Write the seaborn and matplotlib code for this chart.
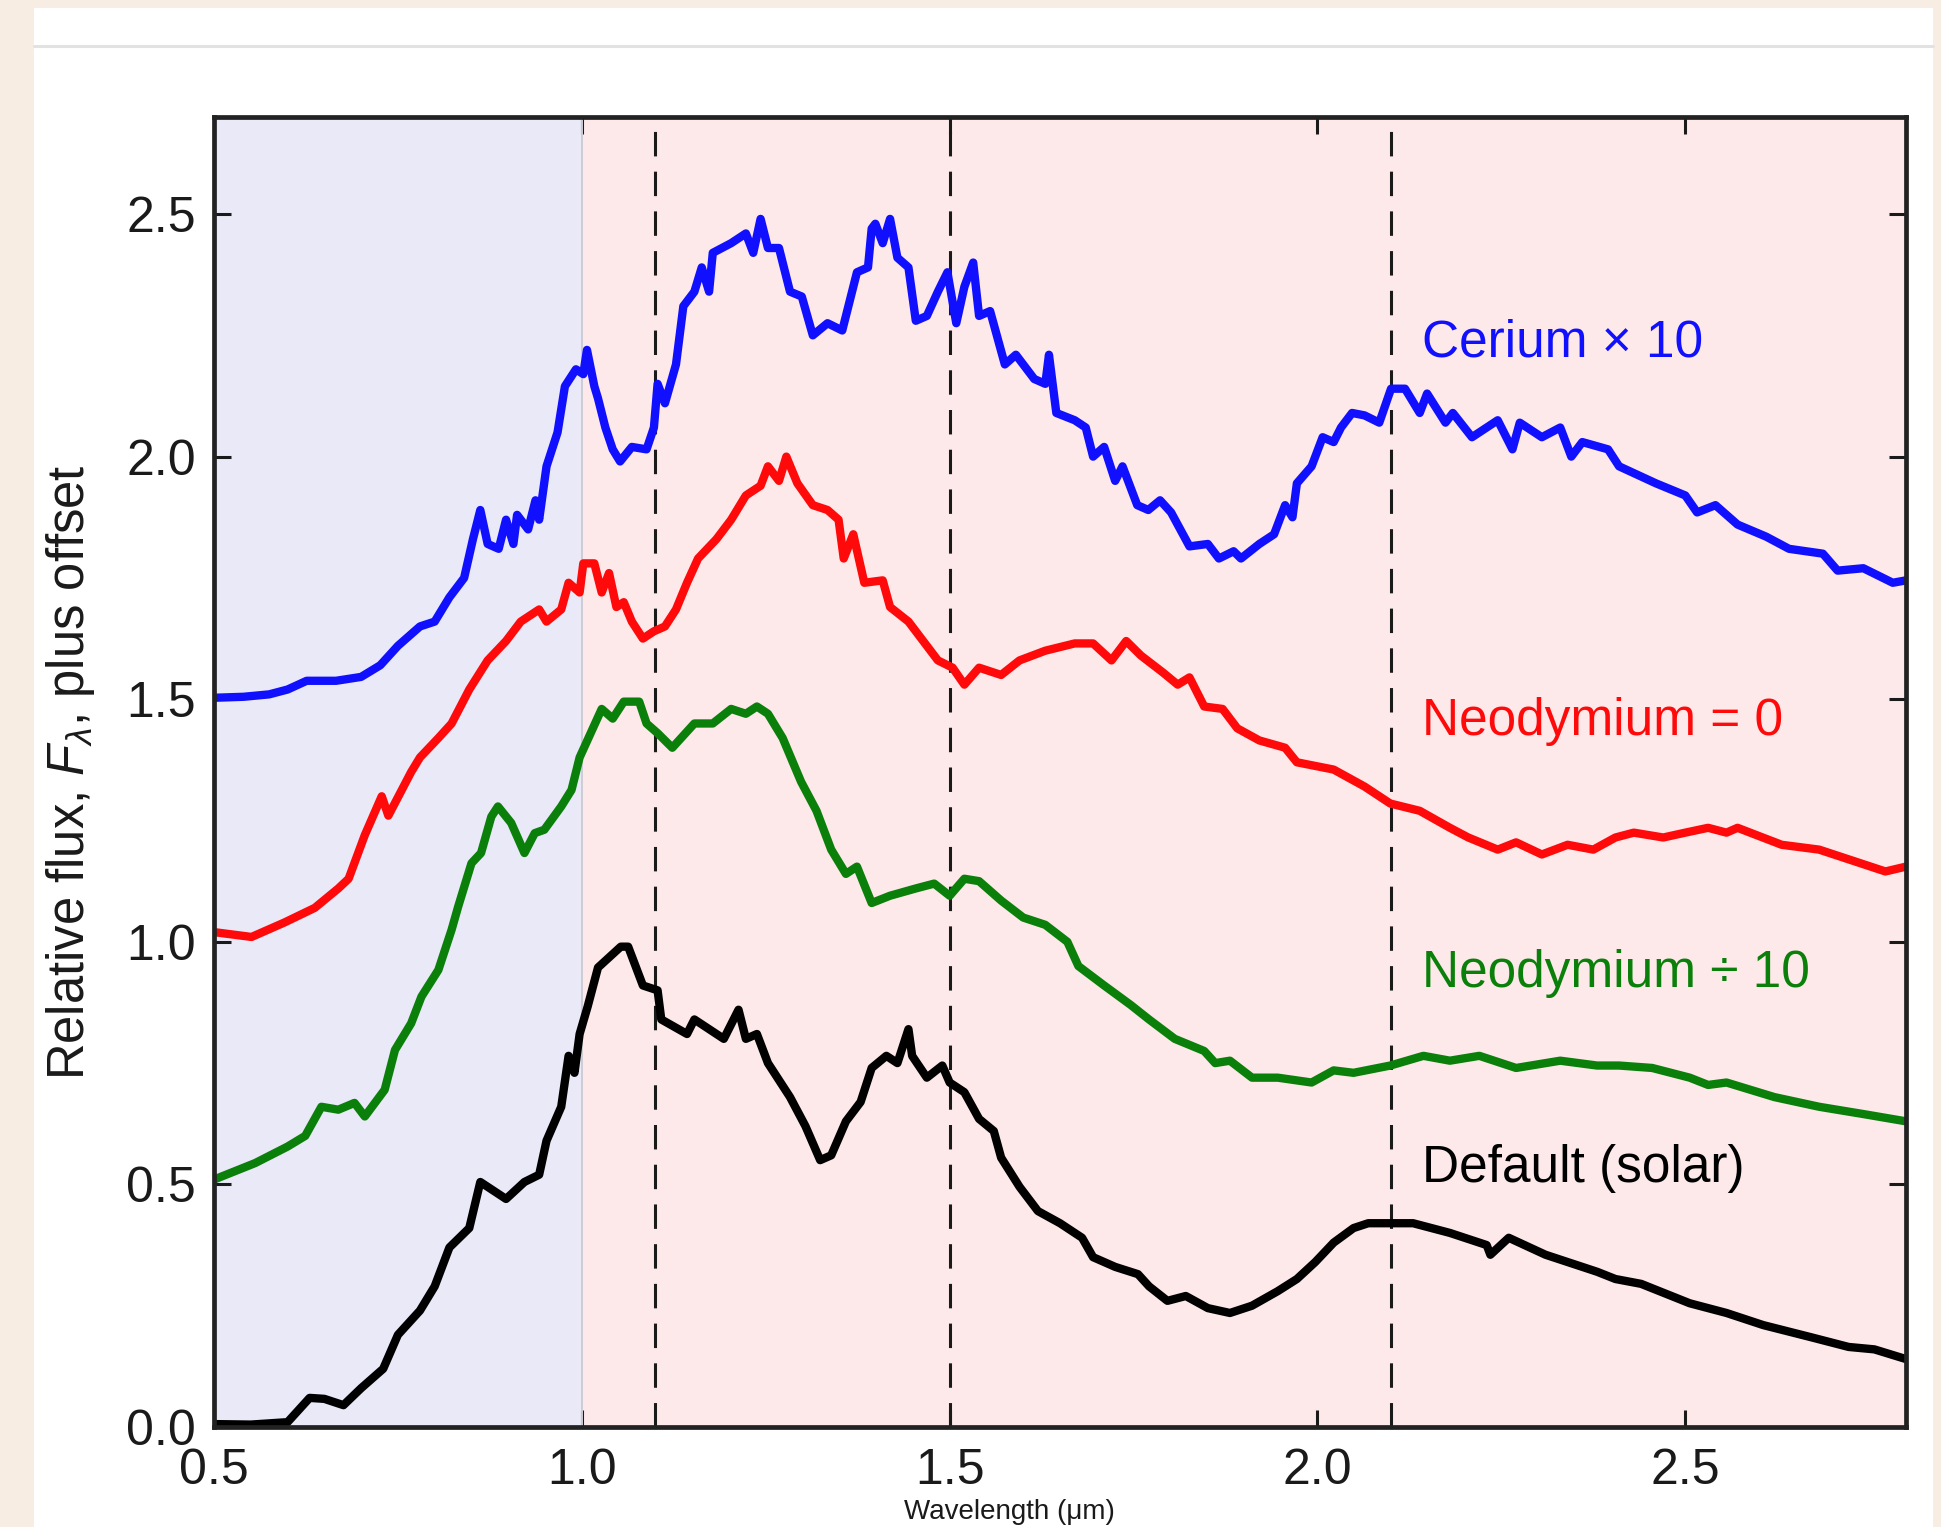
import matplotlib
matplotlib.use("Agg")
import matplotlib.pyplot as plt
from matplotlib.patches import Rectangle
from matplotlib.lines import Line2D
import seaborn as sns
import pandas as pd

# ---- spectra (wavelength in micron, relative flux plus offset) ----
cerium_x = [0.50, 0.54, 0.575, 0.60, 0.626, 0.666, 0.70, 0.726, 0.75, 0.78, 0.80, 0.82, 0.84,
            0.852, 0.862, 0.872, 0.887, 0.897, 0.907, 0.912, 0.927, 0.937, 0.942, 0.952, 0.967,
            0.977, 0.992, 1.002, 1.007, 1.017, 1.022, 1.032, 1.042, 1.052, 1.068, 1.088, 1.098,
            1.103, 1.113, 1.128, 1.138, 1.153, 1.163, 1.173, 1.178, 1.203, 1.223, 1.233, 1.243,
            1.253, 1.268, 1.283, 1.299, 1.314, 1.334, 1.354, 1.364, 1.374, 1.389, 1.394, 1.399,
            1.409, 1.419, 1.429, 1.444, 1.454, 1.469, 1.484, 1.497, 1.509, 1.52, 1.532, 1.54,
            1.555, 1.575, 1.59, 1.615, 1.63, 1.635, 1.645, 1.67, 1.685, 1.695, 1.71, 1.725,
            1.735, 1.755, 1.77, 1.786, 1.801, 1.826, 1.851, 1.866, 1.886, 1.896, 1.921, 1.941,
            1.956, 1.966, 1.972, 1.992, 2.007, 2.022, 2.032, 2.047, 2.064, 2.084, 2.10, 2.119,
            2.139, 2.149, 2.174, 2.184, 2.21, 2.245, 2.265, 2.275, 2.305, 2.33, 2.345, 2.36,
            2.395, 2.41, 2.46, 2.50, 2.516, 2.541, 2.571, 2.61, 2.641, 2.687, 2.707, 2.742,
            2.782, 2.80]
cerium_y = [1.503, 1.505, 1.51, 1.52, 1.538, 1.538, 1.546, 1.57, 1.61, 1.65, 1.66, 1.71, 1.75,
            1.83, 1.89, 1.82, 1.81, 1.87, 1.82, 1.88, 1.85, 1.91, 1.87, 1.98, 2.05,
            2.145, 2.18, 2.17, 2.22, 2.145, 2.12, 2.06, 2.015, 1.99, 2.02, 2.015, 2.06,
            2.15, 2.11, 2.19, 2.31, 2.34, 2.39, 2.34, 2.42, 2.44, 2.46, 2.42, 2.49,
            2.43, 2.43, 2.34, 2.33, 2.25, 2.275, 2.26, 2.32, 2.38, 2.39, 2.47, 2.48,
            2.44, 2.49, 2.41, 2.39, 2.28, 2.29, 2.34, 2.38, 2.275, 2.35, 2.40, 2.29,
            2.30, 2.19, 2.21, 2.16, 2.15, 2.21, 2.09, 2.075, 2.06, 2.00, 2.02, 1.95,
            1.98, 1.90, 1.89, 1.91, 1.885, 1.815, 1.82, 1.79, 1.805, 1.79, 1.82, 1.84,
            1.90, 1.875, 1.945, 1.98, 2.04, 2.03, 2.06, 2.09, 2.085, 2.07, 2.14, 2.14,
            2.09, 2.13, 2.07, 2.09, 2.04, 2.075, 2.015, 2.07, 2.04, 2.06, 2.00, 2.03,
            2.015, 1.98, 1.945, 1.92, 1.885, 1.90, 1.86, 1.835, 1.81, 1.80, 1.765, 1.77,
            1.74, 1.745]

nd0_x = [0.50, 0.551, 0.596, 0.637, 0.669, 0.683, 0.705, 0.728, 0.737, 0.768, 0.78, 0.805,
         0.823, 0.847, 0.872, 0.897, 0.917, 0.942, 0.952, 0.972, 0.982, 0.997, 1.002, 1.017,
         1.027, 1.037, 1.047, 1.057, 1.068, 1.083, 1.098, 1.113, 1.128, 1.143, 1.158, 1.183,
         1.203, 1.223, 1.243, 1.253, 1.268, 1.278, 1.293, 1.314, 1.334, 1.349, 1.356, 1.369,
         1.384, 1.409, 1.419, 1.444, 1.469, 1.484, 1.504, 1.52, 1.54, 1.57, 1.595, 1.63,
         1.67, 1.695, 1.72, 1.74, 1.76, 1.79, 1.81, 1.826, 1.846, 1.871, 1.891, 1.921,
         1.956, 1.972, 2.022, 2.064, 2.099, 2.139, 2.18, 2.205, 2.245, 2.27, 2.305, 2.34,
         2.375, 2.405, 2.43, 2.47, 2.50, 2.531, 2.556, 2.571, 2.631, 2.682, 2.732, 2.772,
         2.80]
nd0_y = [1.02, 1.01, 1.04, 1.07, 1.11, 1.13, 1.22, 1.30, 1.26, 1.35, 1.38, 1.42,
         1.45, 1.52, 1.58, 1.62, 1.66, 1.685, 1.66, 1.685, 1.74, 1.72, 1.78, 1.78,
         1.72, 1.76, 1.69, 1.70, 1.66, 1.625, 1.64, 1.65, 1.685, 1.74, 1.79, 1.83,
         1.87, 1.92, 1.94, 1.98, 1.95, 2.00, 1.945, 1.90, 1.89, 1.87, 1.79, 1.84,
         1.74, 1.745, 1.69, 1.66, 1.61, 1.58, 1.565, 1.53, 1.565, 1.55, 1.58, 1.60,
         1.615, 1.615, 1.58, 1.62, 1.59, 1.555, 1.53, 1.545, 1.485, 1.48, 1.44, 1.415,
         1.40, 1.37, 1.355, 1.32, 1.285, 1.27, 1.235, 1.215, 1.19, 1.205, 1.18, 1.20,
         1.19, 1.215, 1.225, 1.215, 1.225, 1.235, 1.225, 1.235, 1.20, 1.19, 1.165, 1.145,
         1.155]

nd10_x = [0.50, 0.556, 0.60, 0.624, 0.646, 0.669, 0.691, 0.705, 0.732, 0.746, 0.768, 0.782,
          0.805, 0.823, 0.832, 0.85, 0.863, 0.877, 0.886, 0.904, 0.922, 0.936, 0.949, 0.972,
          0.986, 0.997, 1.012, 1.027, 1.042, 1.057, 1.078, 1.088, 1.103, 1.123, 1.153, 1.178,
          1.203, 1.223, 1.238, 1.253, 1.273, 1.298, 1.319, 1.339, 1.359, 1.374, 1.394, 1.419,
          1.454, 1.479, 1.50, 1.52, 1.54, 1.57, 1.60, 1.63, 1.66, 1.675, 1.71, 1.746,
          1.771, 1.806, 1.846, 1.861, 1.881, 1.911, 1.946, 1.992, 2.022, 2.049, 2.099, 2.144,
          2.18, 2.22, 2.27, 2.33, 2.38, 2.41, 2.455, 2.506, 2.531, 2.556, 2.621, 2.682,
          2.742, 2.80]
nd10_y = [0.51, 0.544, 0.578, 0.60, 0.66, 0.654, 0.668, 0.64, 0.695, 0.777, 0.832, 0.887,
          0.942, 1.025, 1.073, 1.162, 1.183, 1.258, 1.279, 1.245, 1.183, 1.224, 1.231, 1.279,
          1.313, 1.38, 1.43, 1.48, 1.46, 1.495, 1.495, 1.45, 1.43, 1.40, 1.45, 1.45,
          1.48, 1.47, 1.485, 1.47, 1.42, 1.33, 1.27, 1.19, 1.14, 1.155, 1.08, 1.095,
          1.11, 1.12, 1.095, 1.13, 1.125, 1.085, 1.05, 1.035, 1.00, 0.95, 0.91, 0.87,
          0.84, 0.80, 0.775, 0.75, 0.755, 0.72, 0.72, 0.71, 0.735, 0.73, 0.745, 0.765,
          0.755, 0.765, 0.74, 0.755, 0.745, 0.745, 0.74, 0.72, 0.705, 0.71, 0.68, 0.66,
          0.645, 0.63]

solar_x = [0.50, 0.55, 0.60, 0.63, 0.65, 0.676, 0.70, 0.73, 0.75, 0.78, 0.80, 0.82,
           0.847, 0.862, 0.897, 0.922, 0.942, 0.952, 0.972, 0.982, 0.99, 0.997, 1.008, 1.022,
           1.053, 1.063, 1.083, 1.103, 1.108, 1.143, 1.153, 1.193, 1.213, 1.223, 1.238, 1.253,
           1.283, 1.304, 1.324, 1.339, 1.359, 1.379, 1.394, 1.414, 1.429, 1.444, 1.449, 1.469,
           1.49, 1.50, 1.52, 1.54, 1.56, 1.57, 1.595, 1.62, 1.65, 1.68, 1.695, 1.725,
           1.756, 1.771, 1.796, 1.821, 1.851, 1.881, 1.911, 1.946, 1.972, 1.997, 2.022, 2.049,
           2.069, 2.094, 2.13, 2.18, 2.23, 2.235, 2.26, 2.31, 2.38, 2.405, 2.44, 2.506,
           2.556, 2.606, 2.671, 2.722, 2.757, 2.80]
solar_y = [0.006, 0.005, 0.01, 0.06, 0.058, 0.045, 0.08, 0.12, 0.19, 0.24, 0.29, 0.37,
           0.41, 0.505, 0.47, 0.505, 0.52, 0.59, 0.66, 0.765, 0.73, 0.81, 0.867, 0.947,
           0.99, 0.99, 0.91, 0.90, 0.84, 0.81, 0.84, 0.80, 0.86, 0.80, 0.81, 0.75,
           0.68, 0.62, 0.55, 0.56, 0.63, 0.67, 0.74, 0.765, 0.75, 0.82, 0.765, 0.72,
           0.745, 0.71, 0.69, 0.635, 0.61, 0.555, 0.495, 0.445, 0.42, 0.39, 0.35, 0.33,
           0.315, 0.29, 0.26, 0.27, 0.245, 0.235, 0.25, 0.28, 0.305, 0.34, 0.38, 0.41,
           0.42, 0.42, 0.42, 0.40, 0.375, 0.355, 0.39, 0.355, 0.32, 0.305, 0.295, 0.255,
           0.235, 0.21, 0.185, 0.165, 0.16, 0.14]

series_names = ["Cerium \u00d7 10", "Neodymium = 0", "Neodymium \u00f7 10", "Default (solar)"]
series_colors = ["#1010ff", "#ff0a0a", "#0a800a", "#000000"]
label_y = [2.235, 1.454, 0.934, 0.533]
marker_lines = [1.1, 1.5, 2.1]
x_ticks = [0.5, 1.0, 1.5, 2.0, 2.5]
y_ticks = [0.0, 0.5, 1.0, 1.5, 2.0, 2.5]

frames = []
for name, xs, ys in zip(series_names,
                        [cerium_x, nd0_x, nd10_x, solar_x],
                        [cerium_y, nd0_y, nd10_y, solar_y]):
    frames.append(pd.DataFrame({"wavelength": xs, "flux": ys, "model": name}))
spectra = pd.concat(frames, ignore_index=True)

sns.set_style("ticks")
plt.rcParams["font.family"] = ["Liberation Sans", "DejaVu Sans"]
plt.rcParams["mathtext.fontset"] = "custom"
plt.rcParams["mathtext.rm"] = "Liberation Sans"
plt.rcParams["mathtext.it"] = "Liberation Sans:italic"

W, H = 1941, 1527
fig = plt.figure(figsize=(W / 100, H / 100), dpi=100, facecolor="#f8ede2")

# white page panel and its rule line
fig.add_artist(Rectangle((34 / W, 0), (1933 - 34) / W, 1 - 8 / H,
                         transform=fig.transFigure, facecolor="white",
                         edgecolor="none", zorder=-10))
fig.add_artist(Line2D([34 / W, 1933 / W], [1 - 46 / H, 1 - 46 / H],
                      transform=fig.transFigure, color="#e2e2e2", lw=2.2, zorder=-9))

ax = fig.add_axes([214 / W, 1 - 1427 / H, (1906 - 214) / W, (1427 - 117) / H])

ax.axvspan(0.5, 1.0, color="#e9e9f8", zorder=0, lw=0)
ax.axvspan(1.0, 2.8, color="#fde9e9", zorder=0, lw=0)
ax.axvline(1.0, color="#cdcdd6", lw=1.4, zorder=1)
for xv in marker_lines:
    ax.axvline(xv, color="#1a1a1a", lw=2.2, dashes=(8, 5), zorder=1)

sns.lineplot(data=spectra, x="wavelength", y="flux", hue="model",
             hue_order=series_names, palette=series_colors,
             estimator=None, sort=False, lw=6, legend=False, ax=ax, zorder=3)
for ln in ax.get_lines()[-4:]:
    ln.set_solid_joinstyle("round")
    ln.set_solid_capstyle("round")

for name, col, yy in zip(series_names, series_colors, label_y):
    ax.text(2.142, yy, name, color=col, fontsize=37, ha="left", va="center", zorder=4)

ax.set_xlim(0.5, 2.8)
ax.set_ylim(0.0, 2.7)
ax.set_xticks(x_ticks)
ax.set_yticks(y_ticks)
ax.set_xticklabels([f"{v:.1f}" for v in x_ticks])
ax.set_yticklabels([f"{v:.1f}" for v in y_ticks])
ax.tick_params(axis="both", which="major", direction="in", length=12, width=2.2,
               labelsize=36, colors="#1a1a1a", top=True, right=True)
ax.tick_params(axis="x", pad=15)
ax.tick_params(axis="y", pad=13)
for side in ["left", "right", "top", "bottom"]:
    ax.spines[side].set_linewidth(3.4)
    ax.spines[side].set_color("#222222")
    ax.spines[side].set_zorder(5)

ax.set_xlabel("")
ax.set_ylabel(r"Relative flux, $F_\lambda$, plus offset", fontsize=36.5, color="#1a1a1a")
ax.yaxis.set_label_coords(-0.069, 0.5)

# axis title squeezed into the strip under the tick labels
fig.text((214 + 0.47 * 1692) / W, 2 / H, "Wavelength (\u03bcm)", fontsize=20,
         color="#1a1a1a", ha="center", va="bottom")

fig.savefig("out.png", dpi=100, facecolor=fig.get_facecolor())
